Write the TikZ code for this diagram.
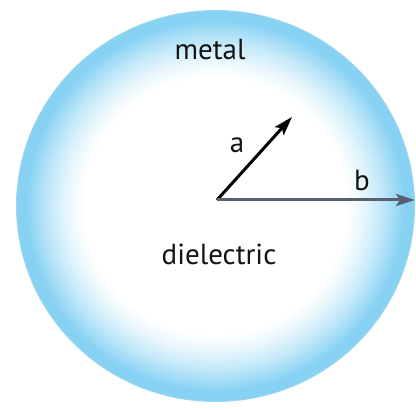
\documentclass[tikz,border=0pt]{standalone}
\usepackage{fontspec}
\setmainfont{PT Sans}
\usetikzlibrary{arrows.meta}
\definecolor{rim}{RGB}{135,210,243}
\definecolor{rimedge}{RGB}{160,215,238}
\definecolor{txt}{RGB}{20,20,20}
\definecolor{bgray}{RGB}{88,98,110}
\tikzset{
  lbl/.style={font=\fontsize{29}{32}\selectfont, text=txt, anchor=base, inner sep=0pt},
  vec/.style={line width=3pt, -{Stealth[length=19pt,width=12pt,inset=4pt]}},
}
\begin{document}
\begin{tikzpicture}[x=1pt,y=1pt]
\useasboundingbox (0,0) rectangle (416,410);
\fill[white] (0,0) rectangle (416,410);
\coordinate (c) at (215.5,204);
\fill[rimedge] (c) ellipse [x radius=199.5, y radius=196];
\foreach \k in {1,...,80} {
  \pgfmathsetmacro\f{1-\k*0.005}
  \pgfmathsetmacro\t{max(0,min(1,(\f-0.65)/0.30))}
  \pgfmathtruncatemacro\p{100*\t^1.4}
  \fill[rim!\p!white] (c) ellipse [x radius={199.5*\f}, y radius={196*\f}];
}
\coordinate (o) at (217,210);
\coordinate (ta) at (292,293);
\coordinate (tb) at (415,210);
\draw[vec, black] (o) -- (ta);
\draw[vec, bgray] (o) -- (tb);
\node[lbl] (metal) at (210,350) {metal};
\node[lbl] (diel) at (219,145) {dielectric};
\node[lbl] (la) at (237,257) {a};
\node[lbl] (lb) at (362,219) {b};
\end{tikzpicture}
\end{document}
